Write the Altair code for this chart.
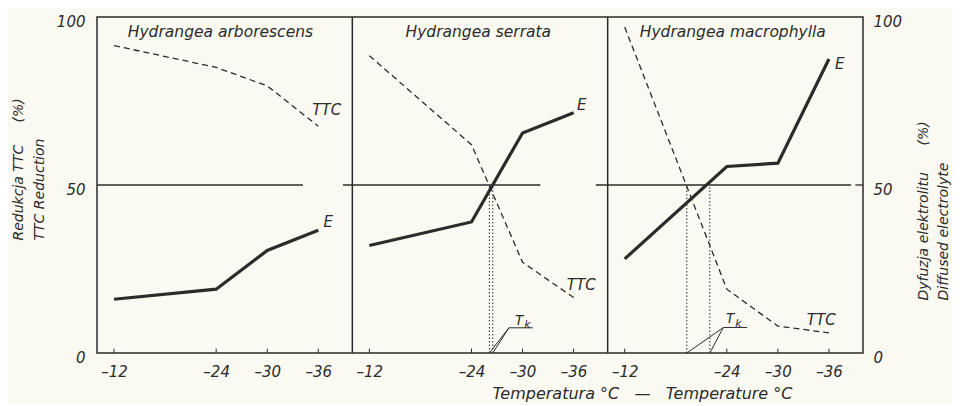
import altair as alt
import pandas as pd

ink = "#2b2b2b"
font = "DejaVu Sans"
nb = "\u00a0"

# ---------------- data ----------------
species = ["Hydrangea arborescens", "Hydrangea serrata", "Hydrangea macrophylla"]
temps = [-12, -24, -30, -36]
e_arb = [16, 19, 30.5, 36.5]
e_ser = [32, 39, 65.5, 71.5]
e_mac = [28, 55.5, 56.5, 87.5]
ttc_arb = [91.5, 85, 79.5, 67.5]
ttc_ser = [88.5, 62, 27, 16.5]
ttc_mac = [97, 19, 8, 6]

# 50 % reference segments (start / end temperature, per panel)
mid_start = [-10.0, -8.9, -8.6]
mid_end = [-34.2, -32.1, -38.6]

# critical temperatures (dotted lines) and T_k construction
crit_panel = [1, 1, 2, 2]
crit_temp = [-26.1, -26.5, -19.3, -22.0]
tk_panel = [1, 2]
tk_apex = [-28.4, -23.6]
tk_end = [-31.2, -26.4]
tk_level = [7.5, 7.6]

# curve labels
lab_text = ["TTC", "E", "E", "TTC", "E", "TTC"]
lab_panel = [0, 0, 1, 1, 2, 2]
lab_temp = [-35.3, -36.6, -36.4, -35.2, -36.7, -33.4]
lab_value = [70.8, 37.5, 72.3, 18.8, 84.5, 8.3]
t_panel = [1, 2]
t_temp = [-29.1, -23.9]
t_value = [8.3, 8.9]
k_temp = [-30.2, -25.0]
k_value = [7.5, 7.7]
title_temp = [-24.5, -24.8, -24.7]
title_value = [94, 94, 94]

# ---------------- tables ----------------
rows = []
for p, (e, t) in enumerate([(e_arb, ttc_arb), (e_ser, ttc_ser), (e_mac, ttc_mac)]):
    for tt, ev, tv in zip(temps, e, t):
        rows.append(dict(species=species[p], panel=p, temp=tt, series="E", value=ev))
        rows.append(dict(species=species[p], panel=p, temp=tt, series="TTC", value=tv))
curves = pd.DataFrame(rows)

mid = pd.DataFrame(dict(panel=[0, 1, 2], t1=mid_start, t2=mid_end, value=[50, 50, 50]))
divs = pd.DataFrame(dict(panel=[0, 1], t1=[-40, -40], lo=[0, 0], hi=[100, 100]))
crit = pd.DataFrame(dict(panel=crit_panel, t1=crit_temp, lo=[0] * 4, hi=[50] * 4))
tk_rows = []
for i, p in enumerate(tk_panel):
    c = [ct for cp, ct in zip(crit_panel, crit_temp) if cp == p]
    tk_rows.append(dict(panel=p, t1=c[0], t2=tk_apex[i], y1=0, y2=tk_level[i]))
    tk_rows.append(dict(panel=p, t1=c[1], t2=tk_apex[i], y1=0, y2=tk_level[i]))
    tk_rows.append(dict(panel=p, t1=tk_apex[i], t2=tk_end[i], y1=tk_level[i], y2=tk_level[i]))
tk = pd.DataFrame(tk_rows)
ticks = pd.DataFrame([dict(panel=p, t1=t, lo=0, hi=1.3) for p in range(3) for t in temps])
rtick = pd.DataFrame(dict(panel=[2], t1=[-39.1], t2=[-40], value=[50]))
labels = pd.DataFrame(dict(text=lab_text, panel=lab_panel, temp=lab_temp, value=lab_value))
tlab = pd.DataFrame(dict(text=["T", "T"], panel=t_panel, temp=t_temp, value=t_value))
klab = pd.DataFrame(dict(text=["k", "k"], panel=t_panel, temp=k_temp, value=k_value))
titles = pd.DataFrame(dict(text=species, panel=[0, 1, 2], temp=title_temp, value=title_value))

# ---------------- scales / axes ----------------
XP = "datum.panel * 30 - 10 - datum.{}"
xs = alt.Scale(domain=[0, 90], nice=False, zero=False)
ys = alt.Scale(domain=[0, 100], nice=False, zero=False)
xvals = [p * 30 - 10 - t for p in range(3) for t in temps]

xaxis = alt.Axis(
    values=xvals, labelExpr="'\u2013' + (10 + datum.value % 30)", domain=False, ticks=False,
    grid=False, labelPadding=11, labelFontSize=15, labelFlush=False, labelOverlap=False,
    title=f"Temperatura °C{nb*3}—{nb*3}Temperature °C", titleX=545, titleY=45,
    titleBaseline="alphabetic", titleAlign="center", titleFontSize=16,
)
yleft = alt.Axis(
    values=[0, 50, 100], domain=False, ticks=False, grid=False, labelPadding=12,
    labelBaseline="middle", labelOffset=4, labelFontSize=15,
    title=["Redukcja TTC" + nb * 5 + "(%)", "TTC Reduction"],
    titleAngle=270, titleAlign="left", titleBaseline="alphabetic",
    titleX=-75, titleY=223, titleLineHeight=21, titleFontSize=14,
)
yright = alt.Axis(
    values=[0, 50, 100], domain=False, ticks=False, grid=False, labelPadding=10,
    labelBaseline="middle", labelOffset=4, labelFontSize=15, orient="right",
    title=["Dyfuzja elektrolitu" + nb * 6 + "(%)", "Diffused electrolyte"],
    titleAngle=270, titleAlign="left", titleBaseline="alphabetic",
    titleX=64, titleY=283, titleLineHeight=20, titleFontSize=14,
)


def X(f, axis=None):
    return alt.X(f"{f}:Q", scale=xs, axis=axis)


def Y(f, axis=None):
    return alt.Y(f"{f}:Q", scale=ys, axis=axis)


e_layer = alt.Chart(curves).transform_filter("datum.series == 'E'").transform_calculate(
    xp=XP.format("temp")).mark_line(color=ink, strokeWidth=3.2).encode(
    x=X("xp", xaxis), y=Y("value", yleft), detail="species:N")

ttc_layer = alt.Chart(curves).transform_filter("datum.series == 'TTC'").transform_calculate(
    xp=XP.format("temp")).mark_line(color=ink, strokeWidth=1.3, strokeDash=[6, 4]).encode(
    x=X("xp"), y=Y("value", yright), detail="species:N")

mid_layer = alt.Chart(mid).transform_calculate(
    xa=XP.format("t1"), xb=XP.format("t2")).mark_rule(color=ink, strokeWidth=1.3).encode(
    x=X("xa"), x2="xb:Q", y=Y("value"))

rtick_layer = alt.Chart(rtick).transform_calculate(
    xa=XP.format("t1"), xb=XP.format("t2")).mark_rule(color=ink, strokeWidth=1.3).encode(
    x=X("xa"), x2="xb:Q", y=Y("value"))

div_layer = alt.Chart(divs).transform_calculate(xa=XP.format("t1")).mark_rule(
    color=ink, strokeWidth=1.5).encode(x=X("xa"), y=Y("lo"), y2="hi:Q")

crit_layer = alt.Chart(crit).transform_calculate(xa=XP.format("t1")).mark_rule(
    color=ink, strokeWidth=1, strokeDash=[1.5, 2]).encode(x=X("xa"), y=Y("lo"), y2="hi:Q")

tk_layer = alt.Chart(tk).transform_calculate(
    xa=XP.format("t1"), xb=XP.format("t2")).mark_rule(color=ink, strokeWidth=1).encode(
    x=X("xa"), x2="xb:Q", y=Y("y1"), y2="y2:Q")

tick_layer = alt.Chart(ticks).transform_calculate(xa=XP.format("t1")).mark_rule(
    color=ink, strokeWidth=1).encode(x=X("xa"), y=Y("lo"), y2="hi:Q")

txt = dict(font=font, fontStyle="italic", color=ink, baseline="alphabetic")
lab_layer = alt.Chart(labels).transform_calculate(xp=XP.format("temp")).mark_text(
    align="left", fontSize=15, **txt).encode(x=X("xp"), y=Y("value"), text="text:N")
t_layer = alt.Chart(tlab).transform_calculate(xp=XP.format("temp")).mark_text(
    align="left", fontSize=13.5, **txt).encode(x=X("xp"), y=Y("value"), text="text:N")
k_layer = alt.Chart(klab).transform_calculate(xp=XP.format("temp")).mark_text(
    align="left", fontSize=11, **txt).encode(x=X("xp"), y=Y("value"), text="text:N")
title_layer = alt.Chart(titles).transform_calculate(xp=XP.format("temp")).mark_text(
    align="center", fontSize=15.5, **txt).encode(x=X("xp"), y=Y("value"), text="text:N")

chart = alt.layer(
    div_layer, mid_layer, rtick_layer, tick_layer, crit_layer, tk_layer,
    ttc_layer, e_layer, lab_layer, t_layer, k_layer, title_layer,
).resolve_axis(x="independent", y="independent").properties(
    width=766, height=336,
    autosize=alt.AutoSizeParams(type="none"),
    padding={"left": 89, "top": 9, "right": 89, "bottom": 51},
    background="#fbfaf2",
).configure_view(stroke=ink, strokeWidth=1.5).configure_axis(
    labelFont=font, labelFontStyle="italic", labelColor=ink,
    titleFont=font, titleFontStyle="italic", titleFontWeight="normal", titleColor=ink,
)

chart.save("out.html", embed_options={"renderer": "svg", "actions": False})
